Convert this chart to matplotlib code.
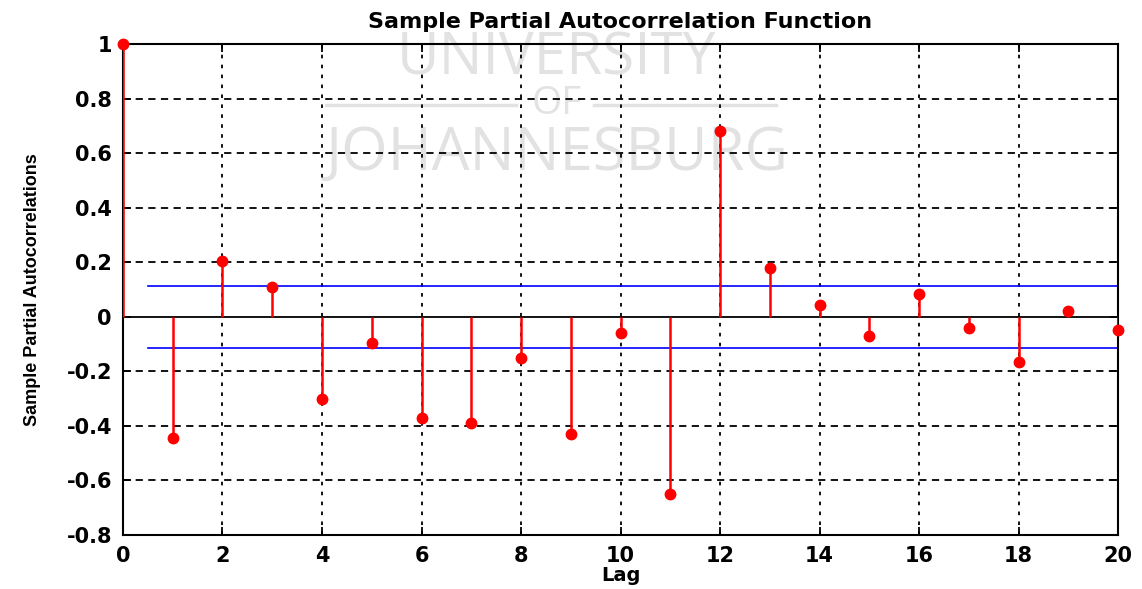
import numpy as np
import matplotlib
matplotlib.use("Agg")
import matplotlib.pyplot as plt

# ==========================================
# DATA
# ==========================================
lags = list(range(0, 21))
pacf = [1.00, -0.445, 0.205, 0.11, -0.30, -0.095, -0.37, -0.39, -0.15, -0.43,
        -0.06, -0.65, 0.68, 0.18, 0.045, -0.07, 0.085, -0.04, -0.165, 0.02, -0.05]
bound = 0.114
x_ticks = list(range(0, 21, 2))
y_ticks = [-0.8, -0.6, -0.4, -0.2, 0, 0.2, 0.4, 0.6, 0.8, 1]
y_labels = ["-0.8", "-0.6", "-0.4", "-0.2", "0", "0.2", "0.4", "0.6", "0.8", "1"]

plt.rcParams['font.family'] = ['DejaVu Sans']

fig = plt.figure(figsize=(11.42, 5.89), dpi=100, facecolor='white')
ax = fig.add_axes([0.1077, 0.0917, 0.8713, 0.8333])

# watermark
wm = dict(transform=ax.transAxes, ha='center', va='center', color='#e2e2e2',
          family='Open Sans', zorder=0)
ax.text(0.436, 0.970, "UNIVERSITY", fontsize=42, **wm)
ax.text(0.436, 0.878, "OF", fontsize=28, **wm)
ax.text(0.436, 0.777, "JOHANNESBURG", fontsize=43, **wm)
ax.plot([0.204, 0.395], [0.876, 0.876], color='#e2e2e2', lw=2.5,
        transform=ax.transAxes, zorder=0)
ax.plot([0.473, 0.656], [0.876, 0.876], color='#e2e2e2', lw=2.5,
        transform=ax.transAxes, zorder=0)

# grid
for xt in x_ticks[1:-1]:
    ax.axvline(xt, color='black', lw=1.3, ls=(0, (2, 3.5)), zorder=1)
for yt in y_ticks[1:-1]:
    if yt != 0:
        ax.axhline(yt, color='black', lw=1.3, ls=(0, (4, 3)), zorder=1)

# stems
ax.axhline(0, color='black', lw=1.3, zorder=2)
ax.vlines(lags, 0, pacf, color='red', lw=1.8, zorder=3)
ax.plot(lags, pacf, ls='none', marker='o', ms=7.5, color='red', zorder=4, clip_on=False)

# confidence bounds
ax.plot([0.5, 20], [bound, bound], color='blue', lw=1.2, zorder=2)
ax.plot([0.5, 20], [-bound, -bound], color='blue', lw=1.2, zorder=2)

ax.set_xlim(0, 20)
ax.set_ylim(-0.8, 1)
ax.set_xticks(x_ticks)
ax.set_yticks(y_ticks)
ax.set_yticklabels(y_labels)
ax.tick_params(direction='in', length=6, width=1.3, top=True, right=True,
               labelsize=15, pad=8)
for lab in ax.get_xticklabels() + ax.get_yticklabels():
    lab.set_fontweight('bold')
for spine in ax.spines.values():
    spine.set_linewidth(1.5)

ax.set_title("Sample Partial Autocorrelation Function", fontsize=16, fontweight='bold', pad=12)
ax.set_xlabel("Lag", fontsize=14, fontweight='bold', labelpad=0)
ax.set_ylabel("Sample Partial Autocorrelations", fontsize=13, fontweight='bold',
              labelpad=18, family='Liberation Sans')

fig.savefig("out.png", dpi=100, facecolor='white')
